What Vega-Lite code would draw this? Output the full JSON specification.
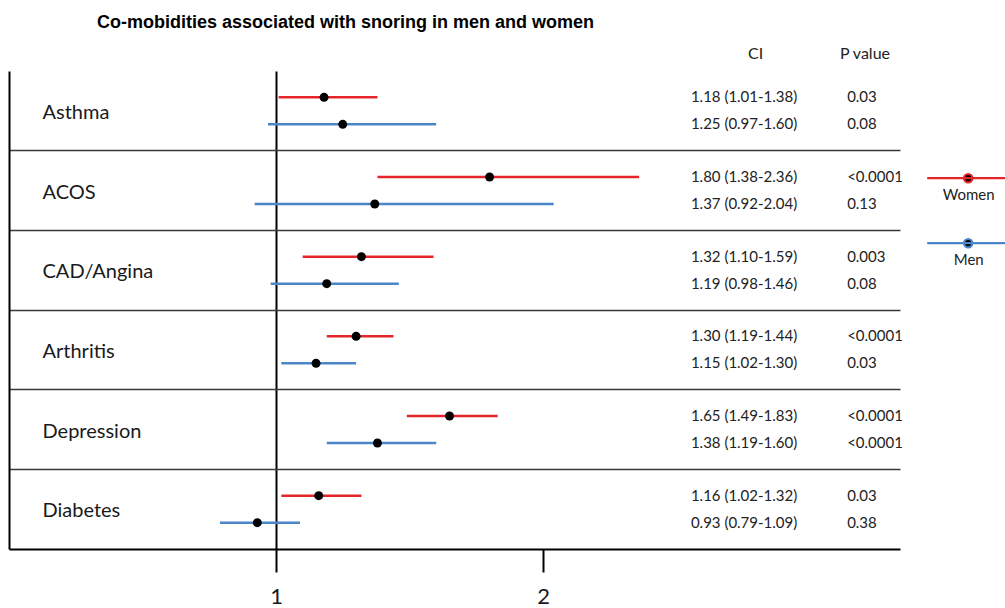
{
  "$schema": "https://vega.github.io/schema/vega-lite/v6.json",
  "width": 891,
  "height": 478,
  "autosize": "none",
  "padding": {"left": 9, "top": 71, "right": 105, "bottom": 59},
  "background": "white",
  "title": {
    "text": "Co-mobidities associated with snoring in men and women",
    "anchor": "start",
    "frame": "group",
    "dx": 88,
    "font": "Liberation Sans",
    "fontSize": 18,
    "fontWeight": "bold",
    "color": "black",
    "offset": 13
  },
  "data": {
    "values": [
      {"cat": "Asthma", "sex": "Women", "or": 1.18, "lo": 1.01, "hi": 1.38, "ci": "1.18 (1.01-1.38)", "p": "0.03"},
      {"cat": "Asthma", "sex": "Men", "or": 1.25, "lo": 0.97, "hi": 1.60, "ci": "1.25 (0.97-1.60)", "p": "0.08"},
      {"cat": "ACOS", "sex": "Women", "or": 1.80, "lo": 1.38, "hi": 2.36, "ci": "1.80 (1.38-2.36)", "p": "<0.0001"},
      {"cat": "ACOS", "sex": "Men", "or": 1.37, "lo": 0.92, "hi": 2.04, "ci": "1.37 (0.92-2.04)", "p": "0.13"},
      {"cat": "CAD/Angina", "sex": "Women", "or": 1.32, "lo": 1.10, "hi": 1.59, "ci": "1.32 (1.10-1.59)", "p": "0.003"},
      {"cat": "CAD/Angina", "sex": "Men", "or": 1.19, "lo": 0.98, "hi": 1.46, "ci": "1.19 (0.98-1.46)", "p": "0.08"},
      {"cat": "Arthritis", "sex": "Women", "or": 1.30, "lo": 1.19, "hi": 1.44, "ci": "1.30 (1.19-1.44)", "p": "<0.0001"},
      {"cat": "Arthritis", "sex": "Men", "or": 1.15, "lo": 1.02, "hi": 1.30, "ci": "1.15 (1.02-1.30)", "p": "0.03"},
      {"cat": "Depression", "sex": "Women", "or": 1.65, "lo": 1.49, "hi": 1.83, "ci": "1.65 (1.49-1.83)", "p": "<0.0001"},
      {"cat": "Depression", "sex": "Men", "or": 1.38, "lo": 1.19, "hi": 1.60, "ci": "1.38 (1.19-1.60)", "p": "<0.0001"},
      {"cat": "Diabetes", "sex": "Women", "or": 1.16, "lo": 1.02, "hi": 1.32, "ci": "1.16 (1.02-1.32)", "p": "0.03"},
      {"cat": "Diabetes", "sex": "Men", "or": 0.93, "lo": 0.79, "hi": 1.09, "ci": "0.93 (0.79-1.09)", "p": "0.38"}
    ]
  },
  "encoding": {
    "y": {
      "field": "cat",
      "type": "nominal",
      "sort": ["Asthma", "ACOS", "CAD/Angina", "Arthritis", "Depression", "Diabetes"],
      "scale": {"paddingInner": 0, "paddingOuter": 0},
      "axis": {
        "title": null,
        "domain": true,
        "domainColor": "black",
        "domainWidth": 2,
        "ticks": false,
        "tickSize": 0,
        "bandPosition": 0,
        "labelAlign": "left",
        "labelBaseline": "middle",
        "labelPadding": -33,
        "labelOffset": 2,
        "labelFontSize": 20,
        "labelFont": "Lato",
        "labelColor": "#1a1a1a",
        "labelBound": false,
        "labelOverlap": false,
        "grid": true,
        "gridColor": "#3a3a3a",
        "gridWidth": 1.5,
        "gridOpacity": {"condition": {"test": "datum.value === 'Asthma'", "value": 0}, "value": 1}
      }
    },
    "yOffset": {
      "field": "sex",
      "type": "nominal",
      "sort": ["Women", "Men"],
      "scale": {"paddingInner": 0, "paddingOuter": 0.475}
    }
  },
  "layer": [
    {
      "mark": {"type": "rule", "strokeWidth": 2.5},
      "encoding": {
        "x": {
          "field": "lo",
          "type": "quantitative",
          "scale": {"domain": [0, 3.337], "nice": false, "zero": false},
          "axis": {
            "orient": "bottom",
            "values": [1, 2],
            "title": null,
            "domain": true,
            "domainColor": "black",
            "domainWidth": 2,
            "ticks": true,
            "tickColor": "black",
            "tickWidth": 2,
            "tickSize": 23,
            "labelFontSize": 22,
            "labelFont": "Lato",
            "labelColor": "#1a1a1a",
            "labelPadding": 14,
            "labelFlush": false,
            "grid": true,
            "gridColor": "black",
            "gridWidth": 2,
            "gridOpacity": {"condition": {"test": "datum.value === 1", "value": 1}, "value": 0}
          }
        },
        "x2": {"field": "hi"},
        "color": {
          "field": "sex",
          "type": "nominal",
          "scale": {"domain": ["Women", "Men"], "range": ["#e4262b", "#4a86c8"]},
          "legend": {
            "orient": "none",
            "legendX": 937.7,
            "legendY": 85.7,
            "title": null,
            "padding": 0,
            "symbolType": "M-2.05,0H2.05M0.21,0A0.21,0.21,0,1,1,-0.21,0A0.21,0.21,0,1,1,0.21,0Z",
            "symbolSize": 1600,
            "symbolStrokeWidth": 2.2,
            "symbolFillColor": "black",
            "labelAlign": "center",
            "labelBaseline": "middle",
            "labelOffset": -21,
            "labelExpr": "['', '', datum.label]",
            "labelFont": "Lato",
            "labelFontSize": 15,
            "labelColor": "#222",
            "rowPadding": 1
          }
        }
      }
    },
    {
      "mark": {"type": "circle", "size": 80, "color": "black", "opacity": 1},
      "encoding": {
        "x": {
          "field": "or",
          "type": "quantitative",
          "axis": {
            "orient": "top",
            "values": [2.794, 3.204],
            "labelExpr": "datum.value < 3 ? 'CI' : 'P value'",
            "title": null,
            "domain": false,
            "ticks": false,
            "tickSize": 0,
            "grid": false,
            "labelFontSize": 16,
            "labelFont": "Lato",
            "labelColor": "#222",
            "labelPadding": 10,
            "labelFlush": false
          }
        }
      }
    },
    {
      "mark": {"type": "text", "align": "center", "baseline": "middle", "fontSize": 15, "font": "Lato", "color": "#222"},
      "encoding": {
        "x": {"datum": 2.753, "type": "quantitative", "axis": null},
        "text": {"field": "ci"}
      }
    },
    {
      "mark": {"type": "text", "align": "left", "baseline": "middle", "fontSize": 15, "font": "Lato", "color": "#222"},
      "encoding": {
        "x": {"datum": 3.139, "type": "quantitative", "axis": null},
        "text": {"field": "p"}
      }
    }
  ],
  "resolve": {"axis": {"x": "independent"}},
  "config": {"view": {"stroke": null}, "font": "Lato"}
}
